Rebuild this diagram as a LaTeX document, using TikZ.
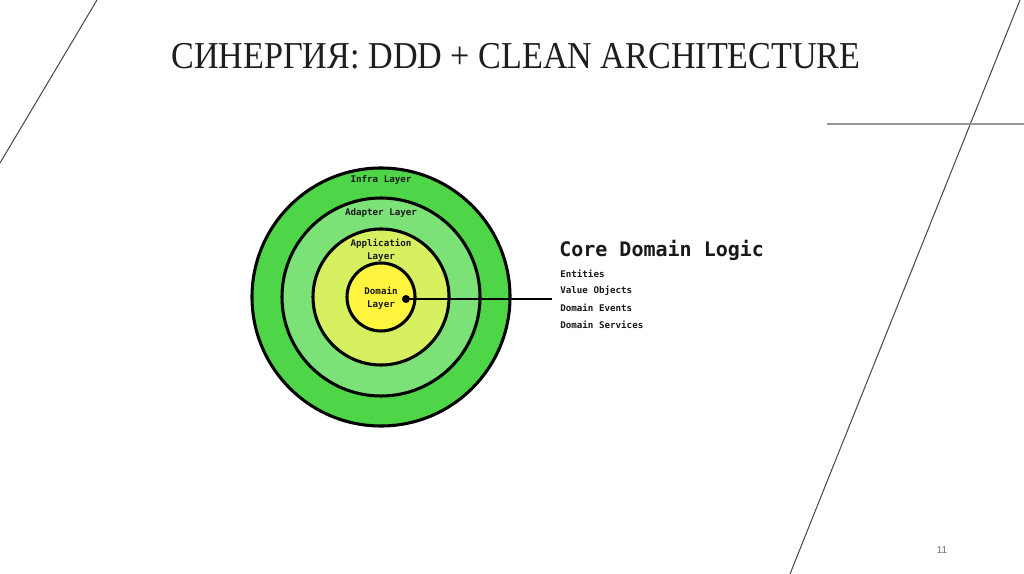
\documentclass[tikz,border=0pt]{standalone}
\usepackage{fontspec}
\setmainfont{Liberation Serif}
\newfontfamily\monofont{DejaVu Sans Mono}
\newfontfamily\pagefont{Liberation Sans}
\definecolor{ringA}{RGB}{78,214,72}
\definecolor{ringB}{RGB}{124,226,120}
\definecolor{ringC}{RGB}{214,240,96}
\definecolor{ringD}{RGB}{255,244,62}
\definecolor{deco}{RGB}{70,70,70}
\definecolor{decoLight}{RGB}{150,150,150}
\definecolor{titleInk}{RGB}{30,30,30}
\tikzset{
  ring/.style={circle, draw=black, line width=2.3pt, inner sep=0pt},
  lbl/.style={font=\monofont\bfseries\fontsize{6.9}{9.4}\selectfont, text=black!90, align=center, inner sep=0pt},
  item/.style={font=\monofont\bfseries\fontsize{6.9}{8.3}\selectfont, text=black!90, anchor=west, inner sep=0pt},
  decoline/.style={draw=deco, line width=0.75pt},
}
\begin{document}
\begin{tikzpicture}[x=0.75pt, y=-0.75pt]
\useasboundingbox (0,0) rectangle (1024,574);
\fill[white] (0,0) rectangle (1024,574);
% decorative lines
\coordinate (l1) at (0,163);
\coordinate (l2) at (97,0);
\coordinate (r1) at (1020,0);
\coordinate (r2) at (790,574);
\coordinate (h1) at (827,124);
\coordinate (h2) at (1024,124);
\draw[decoline] (l1) -- (l2);
\draw[decoline] (r1) -- (r2);
\draw[draw=decoLight, line width=1.1pt] (h1) -- (h2);
% title
\node[text=titleInk, font=\fontsize{28.5}{32}\selectfont, inner sep=0pt] (title) at (516,56) {\scalebox{0.898}[1]{СИНЕРГИЯ: DDD + CLEAN ARCHITECTURE}};
% rings
\node[ring, fill=ringA, minimum size=258*0.75pt] (infra) at (381,297) {};
\node[ring, fill=ringB, minimum size=198*0.75pt] (adapter) at (381,297) {};
\node[ring, fill=ringC, minimum size=136*0.75pt] (app) at (381,297) {};
\node[ring, fill=ringD, minimum size=68*0.75pt] (domain) at (381,297) {};
% labels
\node[lbl] (tinfra) at (381,180) {Infra Layer};
\node[lbl] (tadapter) at (381,213) {Adapter Layer};
\node[lbl] (tapp) at (381,250) {Application\\Layer};
\node[lbl] (tdomain) at (381,298) {Domain\\Layer};
% connector
\node[circle, fill=black, minimum size=8*0.75pt, inner sep=0pt] (dot) at (406,299) {};
\coordinate (lineend) at (552,299);
\draw[line width=1.9pt] (dot.center) -- (lineend);
% right text
\node[item, font=\monofont\bfseries\fontsize{15}{18}\selectfont] (core) at (559,250) {Core Domain Logic};
\node[item] (i1) at (560,273.5) {Entities};
\node[item] (i2) at (560,290.5) {Value Objects};
\node[item] (i3) at (560,307.5) {Domain Events};
\node[item] (i4) at (560,324.5) {Domain Services};
% page number
\node[text=black!55, font=\pagefont\fontsize{7.5}{9}\selectfont, inner sep=0pt] (pnum) at (942,550) {11};
\end{tikzpicture}
\end{document}
